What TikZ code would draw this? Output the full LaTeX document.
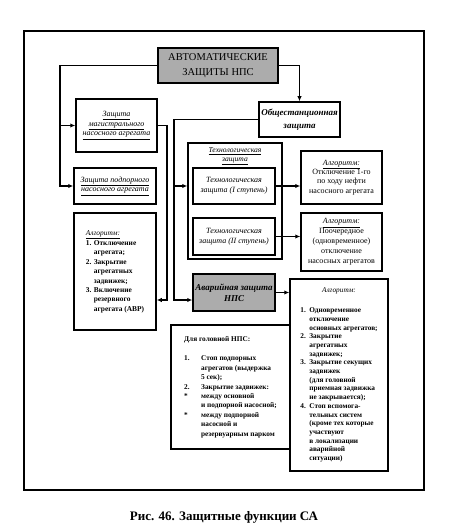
\documentclass[tikz,border=0pt]{standalone}
\usepackage{fontspec}
\setmainfont{Liberation Serif}
\usepackage{array}
\usetikzlibrary{arrows.meta,positioning}
\definecolor{boxgray}{RGB}{172,172,172}
\newcommand{\fs}[2]{\fontsize{#1}{#2}\selectfont}
\newcommand{\undl}[1]{\underline{#1}}

\begin{document}
\begin{tikzpicture}[x=1pt,y=-1pt,
    box/.style={draw,line width=1.5pt,inner sep=1pt,align=center},
    grbox/.style={box,fill=boxgray},
    lbl/.style={align=center,font=\itshape\fs{8}{9.6}},
    conn/.style={line width=1.3pt},
    arr/.style={conn,-{Latex[length=5pt,width=4.5pt]}}]

\useasboundingbox (0,0) rectangle (453,529);
\draw[line width=2.4pt] (24,31) rectangle (424,490);

% head
\node[grbox,minimum width=120,minimum height=35,font=\fs{10.5}{15}] (title) at (218,65.5) {АВТОМАТИЧЕСКИЕ\\ЗАЩИТЫ НПС};

% left column
\node[box,lbl,minimum width=81,minimum height=53] (mag) at (116.5,125.5) {\undl{Защита}\\\undl{магистрального}\\\undl{насосного агрегата}};
\node[box,lbl,minimum width=82,minimum height=36] (podp) at (115,186) {\undl{Защита подпорного}\\\undl{насосного агрегата}};
\node[box,minimum width=82,minimum height=117,font=\bfseries\fs{7.4}{9.4}] (algL) at (115,271.5) {%
  \begin{tabular}{@{}p{8pt}@{}l@{}}
  \multicolumn{2}{@{}l}{\mdseries\itshape\undl{Алгоритм:}}\\
  1. & Отключение\\ & агрегата;\\
  2. & Закрытие\\ & агрегатных\\ & задвижек;\\
  3. & Включение\\ & резервного\\ & агрегата (АВР)
  \end{tabular}};

% middle column
\node[box,minimum width=81,minimum height=35,font=\bfseries\itshape\fs{9}{12.5}] (obsh) at (299.5,119.5) {Общестанционная\\защита};
\node[box,minimum width=94,minimum height=116] (tech) at (235,201) {};
\node[lbl,font=\itshape\fs{7.6}{9},below=2pt of tech.north] (techlbl) {\undl{Технологическая}\\\undl{защита}};
\node[box,lbl,minimum width=82,minimum height=36] (tech1) at (234,186) {Технологическая\\защита (I ступень)};
\node[box,lbl,minimum width=82,minimum height=37] (tech2) at (234,236.5) {Технологическая\\защита (II ступень)};
\node[grbox,minimum width=82,minimum height=37,font=\bfseries\itshape\fs{9}{10.6}] (avar) at (234,292.5) {Аварийная защита\\НПС};
\node[box,minimum width=119,minimum height=124,font=\bfseries\fs{7.3}{9.4}] (headnps) at (230.5,387) {%
  \begin{tabular}{@{}p{17pt}@{}l@{}}
  \multicolumn{2}{@{}l}{Для головной НПС:}\\[10pt]
  1. & Стоп подпорных\\ & агрегатов (выдержка\\ & 5 сек);\\
  2. & Закрытие задвижек:\\
  {*} & между основной\\ & и подпорной насосной;\\
  {*} & между подпорной\\ & насосной и\\ & резервуарным парком
  \end{tabular}};

% right column
\node[box,minimum width=81,minimum height=53,font=\fs{8}{9.3}] (alg1) at (341.5,177.5) {\textit{\undl{Алгоритм:}}\\Отключение 1-го\\по ходу нефти\\насосного агрегата};
\node[box,minimum width=81,minimum height=58,font=\fs{8}{10}] (alg2) at (341.5,242) {\textit{\undl{Алгоритм:}}\\Поочередное\\(одновременное)\\отключение\\насосных агрегатов};
\node[box,minimum width=98,minimum height=192,font=\bfseries\fs{7.3}{8.7}] (alg3) at (339,375) {%
  \begin{tabular}{@{}p{9pt}@{}l@{}}
  \multicolumn{2}{c}{\mdseries\itshape Алгоритм:}\\[11pt]
  1. & Одновременное\\ & отключение\\ & основных агрегатов;\\
  2. & Закрытие\\ & агрегатных\\ & задвижек;\\
  3. & Закрытие секущих\\ & задвижек\\ & (для головной\\ & приемная задвижка\\ & не закрывается);\\
  4. & Стоп вспомога-\\ & тельных систем\\ & (кроме тех которые\\ & участвуют\\ & в локализации\\ & аварийной\\ & ситуации)
  \end{tabular}};

% connectors
\coordinate (lbus) at (60,66);
\coordinate (rbus) at (167,300);
\coordinate (mbus) at (174,300);
\draw[arr] (title.west) -| (lbus |- podp.west) -- (podp.west);
\draw[arr] (lbus |- mag.west) -- (mag.west);
\draw[arr] (title.east) -| (obsh.north);
\draw[arr] (mag.east) -| (rbus) -- (rbus -| algL.east);
\draw[arr] (obsh.west) -| (mbus) -- (mbus -| avar.west);
\draw[arr] (mbus |- tech1.west) -- (tech1.west -| tech.west);
\draw[arr] (tech1.east) -- (tech1.east -| alg1.west);
\draw[arr] (tech2.east) -- (tech2.east -| alg2.west);
\draw[arr] (avar.east) -- (avar.east -| alg3.west);

\node[font=\bfseries\fs{13}{15}] (cap) at (224,517) {Рис. 46. Защитные функции СА};
\end{tikzpicture}
\end{document}
